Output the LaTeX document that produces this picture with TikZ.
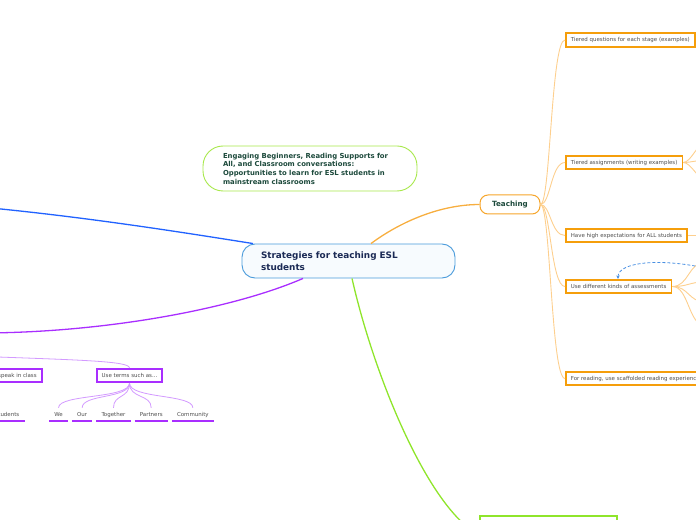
\documentclass[tikz,border=0pt]{standalone}
\usepackage{fontspec}
\setmainfont{DejaVu Sans}
\usepackage{xcolor}
\usepackage{tikz}
\usetikzlibrary{positioning, arrows.meta, calc}

\definecolor{rootblue}{HTML}{4A9BDB}
\definecolor{rootfill}{HTML}{F7FBFE}
\definecolor{navytext}{HTML}{1B2A55}
\definecolor{notegreen}{HTML}{A8E84C}
\definecolor{darkgreen}{HTML}{1D4A3C}
\definecolor{teachorange}{HTML}{F6A52A}
\definecolor{boxorange}{HTML}{F59E0B}
\definecolor{lineorange}{HTML}{FDCF8E}
\definecolor{branchblue}{HTML}{2162FF}
\definecolor{branchpurple}{HTML}{A92EFF}
\definecolor{linepurple}{HTML}{D39AFF}
\definecolor{branchgreen}{HTML}{8FE52B}
\definecolor{leaftext}{HTML}{4D4D4D}
\definecolor{dashblue}{HTML}{4A90E2}

\begin{document}
\begin{tikzpicture}[
    x=1bp, y=-1bp,
    >=Stealth,
    node distance=4bp,
    rootbox/.style={draw=rootblue, fill=rootfill, line width=0.9bp, rounded corners=13bp, inner xsep=19bp, text width=175bp, minimum height=34bp, align=left, font=\fontsize{8.9}{11.8}\selectfont\bfseries, text=navytext},
    notebox/.style={draw=notegreen, fill=white, line width=0.9bp, rounded corners=20bp, inner xsep=20bp, text width=174bp, minimum height=45bp, align=left, font=\fontsize{6.9}{8.7}\selectfont\bfseries, text=darkgreen},
    mainbox/.style={draw=teachorange, fill=white, line width=1bp, rounded corners=8bp, minimum width=60bp, minimum height=19bp, font=\fontsize{7.2}{8}\selectfont\bfseries, text=darkgreen},
    leafbox/.style={draw=boxorange, fill=white, line width=1.6bp, inner xsep=5bp, inner ysep=0bp, minimum height=13.5bp, anchor=west, font=\fontsize{5.5}{6.5}\selectfont, text=leaftext},
    termbox/.style={leafbox, draw=branchpurple},
    word/.style={inner xsep=5bp, inner ysep=0bp, minimum height=13bp, font=\fontsize{5.5}{6.5}\selectfont, text=leaftext},
    uline/.style={branchpurple, line width=1.5bp},
    twig/.style={lineorange, line width=0.9bp},
    ptwig/.style={linepurple, line width=0.8bp},
    branch/.style={line width=1.3bp},
]
\clip (0,0) rectangle (696,520);

% ---- Central topic ----
\node[rootbox] (root) at (348.5,261) {Strategies for teaching ESL\\students};

% ---- Floating note ----
\node[notebox] (note) at (310,168.5) {Engaging Beginners, Reading Supports for\\All, and Classroom conversations:\\Opportunities to learn for ESL students in\\mainstream classrooms};

% ---- Teaching branch ----
\node[mainbox] (teach) at (510,204.5) {Teaching};
\draw[branch, teachorange!90] (root.north -| 371,0) .. controls (400,222) and (440,204.5) .. (teach.west);

\node[leafbox] (tq) at (565,40) {Tiered questions for each stage (examples)};
\node[leafbox] (ta) at (565,162.5) {Tiered assignments (writing examples)};
\node[leafbox] (he) at (565,235.5) {Have high expectations for ALL students};
\node[leafbox] (ua) at (565,286.5) {Use different kinds of assessments};
\node[leafbox] (fr) at (565,378.5) {For reading, use scaffolded reading experiences};

\foreach \leaf in {tq, ta, he, ua, fr}
    \draw[twig] (teach.east) .. controls +(10,0) and +(-14,0) .. (\leaf.west);

% ---- Sub-branches leaving the page ----
\coordinate (ta1) at (706,142);
\coordinate (ta2) at (706,160);
\coordinate (ta3) at (706,180);
\coordinate (he1) at (706,235.5);
\coordinate (ua1) at (706,262);
\coordinate (ua2) at (706,282);
\coordinate (ua3) at (706,302);
\coordinate (ua4) at (706,326);
\foreach \sub in {ta1, ta2, ta3}
    \draw[twig] (ta.east) .. controls +(8,0) and +(-8,0) .. (\sub);
\draw[twig] (he.east) -- (he1);
\foreach \sub in {ua1, ua2, ua3, ua4}
    \draw[twig] (ua.east) .. controls +(17,0) and +(-18,0) .. (\sub);

% ---- Dashed relation ----
\coordinate (rel) at (705,268);
\draw[dashblue, line width=0.8bp, dash pattern=on 3bp off 2bp, -{Stealth[length=3.5bp, width=3.5bp]}]
    (rel) .. controls (660,258) and (618,262) .. (ua.north -| 618,0);

% ---- Green branch ----
\node[draw=branchgreen, fill=white, line width=1.3bp, minimum width=137bp, minimum height=38bp] (study) at (548.5,535) {};
\draw[branch, branchgreen] (root.south -| 352,0) .. controls (375,380) and (430,510) .. (study.west);

% ---- Blue branch ----
\coordinate (bl) at (-30,206);
\draw[branch, branchblue] (root.north -| 253,0) .. controls (180,232) and (80,216) .. (bl);

% ---- Purple branch ----
\coordinate (pl) at (-20,333);
\draw[branch, branchpurple] (root.south -| 303,0) .. controls (230,310) and (100,333) .. (pl);

\node[termbox, anchor=east, text width=70bp, align=right] (speak) at (42.5,375.5) {speak in class};
\node[termbox, anchor=center] (terms) at (129.5,375.5) {Use terms such as...};
\coordinate (pt) at (-30,356);
\draw[ptwig] (pt) .. controls (80,360) and (129.5,361) .. (terms.north);

\node[word, anchor=east] (stud) at (24.5,414.5) {students};
\node[word] (we) at (58.5,414.5) {We};
\node[word, right=of we] (our) {Our};
\node[word, right=of our] (tog) {Together};
\node[word, right=of tog] (part) {Partners};
\node[word, right=of part] (comm) {Community};

\foreach \w in {stud, we, our, tog, part, comm}
    \draw[uline] (\w.south west) -- (\w.south east);
\foreach \w in {we, our, tog, part, comm}
    \draw[ptwig] (terms.south) .. controls +(0,16) and +(0,-14) .. (\w.north);

\end{tikzpicture}
\end{document}
